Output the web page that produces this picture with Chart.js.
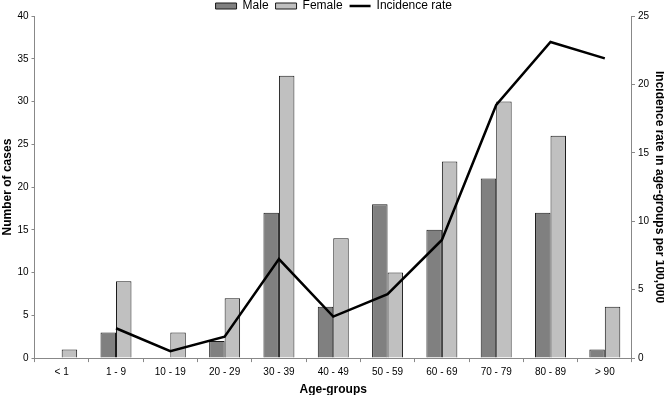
<!DOCTYPE html>
<html>
<head>
<meta charset="utf-8">
<script src="https://cdn.jsdelivr.net/npm/chart.js@4/dist/chart.umd.min.js"></script>
<style>
  body { margin: 0; background: #fff; }
  #wrap { width: 664px; height: 395px; }
</style>
</head>
<body>
<div id="wrap"><canvas id="ageChart" width="664" height="395"></canvas></div>
<script>
// age groups and counts
const ageGroups = ['< 1', '1 - 9', '10 - 19', '20 - 29', '30 - 39', '40 - 49', '50 - 59', '60 - 69', '70 - 79', '80 - 89', '> 90'];
const maleCases = [0, 3, 0, 2, 17, 6, 18, 15, 21, 17, 1];
const femaleCases = [1, 9, 3, 7, 33, 14, 10, 23, 30, 26, 6];
const incidenceRate = [null, 2.18, 0.5, 1.56, 7.24, 3.03, 4.67, 8.63, 18.5, 23.1, 21.9];

const font = 'Liberation Sans, Arial, sans-serif';

new Chart(document.getElementById('ageChart'), {
  type: 'bar',
  data: {
    labels: ageGroups,
    datasets: [
      {
        label: 'Male',
        data: maleCases,
        backgroundColor: '#808080',
        borderColor: '#1a1a1a',
        borderWidth: 1,
        yAxisID: 'y',
        order: 2
      },
      {
        label: 'Female',
        data: femaleCases,
        backgroundColor: '#c0c0c0',
        borderColor: '#1a1a1a',
        borderWidth: 1,
        yAxisID: 'y',
        order: 2
      },
      {
        type: 'line',
        label: 'Incidence rate',
        data: incidenceRate,
        borderColor: '#000',
        backgroundColor: '#000',
        borderWidth: 2.5,
        pointRadius: 0,
        tension: 0,
        spanGaps: false,
        yAxisID: 'y1',
        order: 1
      }
    ]
  },
  options: {
    responsive: false,
    animation: false,
    layout: { padding: { left: 0, right: -3.5, top: -7, bottom: -1.5 } },
    datasets: {
      bar: { categoryPercentage: 0.57, barPercentage: 1.0 }
    },
    plugins: {
      tooltip: { enabled: false },
      legend: {
        position: 'top',
        maxHeight: 23,
        labels: {
          color: '#000',
          font: { family: font, size: 12 },
          usePointStyle: true,
          pointStyleWidth: 21,
          boxHeight: 6,
          padding: 7,
          sort: (a, b) => a.datasetIndex - b.datasetIndex,
          generateLabels: (chart) => {
            const items = Chart.defaults.plugins.legend.labels.generateLabels(chart);
            items.forEach((it) => {
              if (it.datasetIndex === 2) {
                it.pointStyle = 'line';
                it.lineWidth = 2.5;
                it.strokeStyle = '#000';
              } else {
                it.pointStyle = 'rect';
                it.lineWidth = 1;
              }
            });
            return items;
          }
        }
      }
    },
    scales: {
      x: {
        grid: { drawOnChartArea: false, drawTicks: true, tickLength: 4, color: '#888', offset: true },
        border: { color: '#888' },
        ticks: { color: '#000', font: { family: font, size: 10 }, maxRotation: 0, autoSkip: false, padding: 4 },
        title: { display: true, text: 'Age-groups', color: '#000', font: { family: font, size: 12, weight: 'bold' }, padding: { top: 0, bottom: 0 } }
      },
      y: {
        position: 'left',
        min: 0,
        max: 40,
        ticks: { stepSize: 5, color: '#000', font: { family: font, size: 10 }, padding: 3 },
        grid: { drawOnChartArea: false, drawTicks: true, tickLength: 3, color: '#888' },
        border: { color: '#888' },
        title: { display: true, text: 'Number of cases', color: '#000', font: { family: font, size: 12, weight: 'bold' }, padding: 0 }
      },
      y1: {
        position: 'right',
        min: 0,
        max: 25,
        ticks: { stepSize: 5, color: '#000', font: { family: font, size: 10 }, padding: 3 },
        grid: { drawOnChartArea: false, drawTicks: true, tickLength: 3, color: '#888' },
        border: { color: '#888' },
        title: { display: true, text: 'Incidence rate in age-groups per 100,000', color: '#000', font: { family: font, size: 12, weight: 'bold' }, padding: { top: 1, bottom: 0 } }
      }
    }
  }
});
</script>
</body>
</html>
